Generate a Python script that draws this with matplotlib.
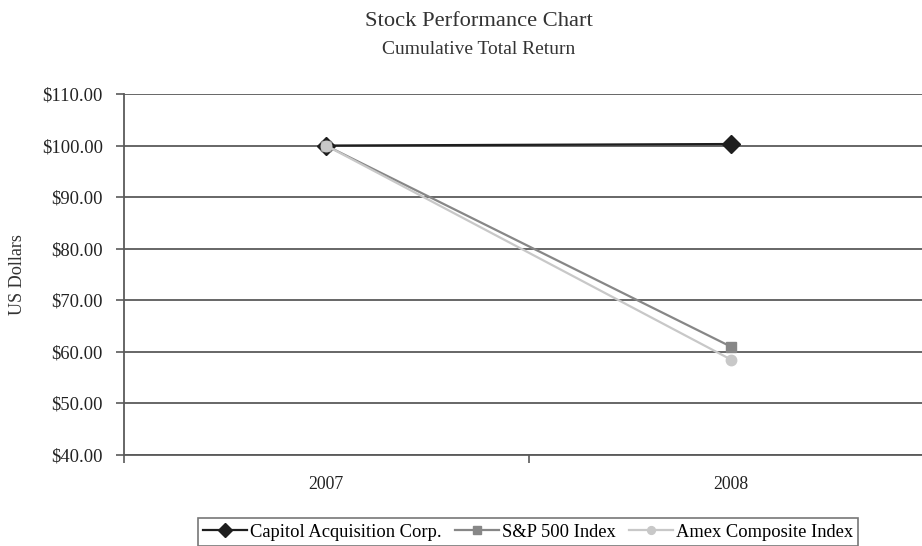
import matplotlib
matplotlib.use('Agg')
import matplotlib.pyplot as plt
from matplotlib.ticker import FixedLocator

plt.rcParams['font.family'] = ['Liberation Serif', 'DejaVu Serif']

years = ['2007', '2008']
capitol = [100.00, 100.30]
sp500 = [100.00, 61.00]
amex = [100.00, 58.50]
y_ticks = [40, 50, 60, 70, 80, 90, 100, 110]

fig = plt.figure(figsize=(9.22, 5.46), dpi=100)
ax = fig.add_axes([123.5 / 922, 1 - 455 / 546, 810 / 922, 361 / 546])

x = list(range(len(years)))
ax.plot(x, capitol, color='#1e1e1e', lw=1.6, marker='D', ms=9, label='Capitol Acquisition Corp.', zorder=3)
ax.plot(x, sp500, color='#878787', lw=1.6, marker='s', ms=7.2, label='S&P 500 Index', zorder=4)
ax.plot(x, amex, color='#c8c8c8', lw=1.6, marker='o', ms=7.5, label='Amex Composite Index', zorder=5)

ax.set_xlim(-0.5, 1.5)
ax.set_ylim(40, 110)
ax.set_yticks(y_ticks)
ax.set_yticklabels(['${:.2f}'.format(v) for v in y_ticks], fontsize=13.3, color='#222222')
ax.yaxis.grid(True, color='#5a5a5a', lw=1.3)
ax.set_axisbelow(True)

ax.set_xticks(x)
ax.set_xticklabels(years, fontsize=12.8, color='#222222')
ax.tick_params(axis='x', which='major', length=0, pad=15)
ax.xaxis.set_minor_locator(FixedLocator([-0.5, 0.5, 1.5]))
ax.tick_params(axis='x', which='minor', length=5.8, color='#5a5a5a', width=1.2)
ax.tick_params(axis='y', length=5.8, color='#5a5a5a', width=1.2, pad=9)

for s in ['top', 'right']:
    ax.spines[s].set_visible(False)
for s in ['left', 'bottom']:
    ax.spines[s].set_color('#5a5a5a')
    ax.spines[s].set_linewidth(1.3)

ax.set_ylabel('US Dollars', fontsize=13.1, color='#333333')
ax.yaxis.set_label_coords((26 - 123.5) / 810, 0.5)

fig.text(479 / 922, 1 - 21 / 546, 'Stock Performance Chart', ha='center', va='center', fontsize=16.2, color='#333333')
fig.text(479 / 922, 1 - 50 / 546, 'Cumulative Total Return', ha='center', va='center', fontsize=14, color='#333333')

leg = fig.legend(loc='upper center', bbox_to_anchor=(528 / 922, 1 - 518 / 546), ncol=3, fontsize=13.3,
                 frameon=True, fancybox=False, edgecolor='#555555', handlelength=2.4, handletextpad=0.15,
                 columnspacing=0.7, borderpad=0.3, borderaxespad=0, markerscale=0.75)
leg.get_frame().set_linewidth(1.2)

fig.savefig('out.png', dpi=100)
